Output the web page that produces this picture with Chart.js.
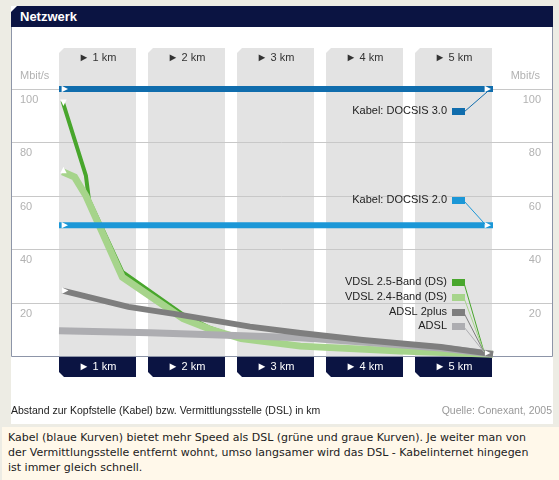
<!DOCTYPE html>
<html>
<head>
<meta charset="utf-8">
<script src="https://cdn.jsdelivr.net/npm/chart.js@4/dist/chart.umd.min.js"></script>
<style>
  body { margin: 0; width: 559px; height: 480px; background: #edece4; position: relative; overflow: hidden;
         font-family: "Liberation Sans", Arial, sans-serif; }
  #panel { position: absolute; left: 11px; top: 6px; width: 542px; height: 418px; background: #fff; }
  #title { position: absolute; left: 11px; top: 6px; width: 533px; height: 21px; background: #0b1442; color: #fff;
           font-weight: bold; font-size: 13px; line-height: 21px; padding-left: 9px;
           clip-path: polygon(6px 0, 100% 0, 100% 100%, 0 100%, 0 6px); }
  #chart { position: absolute; left: 0; top: 0; }
  #axisnote { position: absolute; left: 11px; top: 404px; font-size: 10.5px; color: #222; }
  #source { position: absolute; right: 7px; top: 404px; font-size: 10.5px; color: #999; }
  #caption { position: absolute; left: 2px; top: 427px; width: 551px; height: 50px; background: #fff8ea;
             font-family: "DejaVu Sans", Verdana, sans-serif; font-size: 11px; line-height: 15px; color: #222;
             padding: 3px 0 0 6px; white-space: nowrap; }
</style>
</head>
<body>
<div id="panel"></div>
<canvas id="chart" width="559" height="480"></canvas>
<div id="title">Netzwerk</div>
<div id="axisnote">Abstand zur Kopfstelle (Kabel) bzw. Vermittlungsstelle (DSL) in km</div>
<div id="source">Quelle: Conexant, 2005</div>
<div id="caption">Kabel (blaue Kurven) bietet mehr Speed als DSL (grüne und graue Kurven). Je weiter man von<br>der Vermittlungsstelle entfernt wohnt, umso langsamer wird das DSL - Kabelinternet hingegen<br>ist immer gleich schnell.</div>
<script>
// distance columns and y ticks
const kmLabels = ['1 km', '2 km', '3 km', '4 km', '5 km'];
const yTicks = [20, 40, 60, 80, 100];

// series: distance in km and speed in Mbit/s
const docsis30Km = [0, 5];
const docsis30 = [100, 100];
const docsis20Km = [0, 5];
const docsis20 = [49, 49];
const vdsl25Km = [0.04, 0.31, 0.345, 0.73, 1.43, 1.74, 2.1, 2.78, 3.93, 5];
const vdsl25 = [95.5, 67.5, 58.5, 31.5, 15.5, 10.5, 6.5, 3.7, 1.9, 0.7];
const vdsl24Km = [0.04, 0.18, 0.31, 0.73, 1.43, 1.74, 2.1, 2.78, 3.93, 5];
const vdsl24 = [69, 67, 60, 29.5, 14, 10, 6.5, 3.7, 1.9, 0.7];
const adsl2pKm = [0.04, 0.8, 1.4, 2.2, 2.78, 3.5, 4.4, 5];
const adsl2p = [24.5, 18.4, 15.4, 11, 8.6, 6, 3.4, 0.7];
const adslKm = [0, 1.05, 2.2, 2.78, 3.5, 4.4, 5];
const adsl = [9.5, 8.7, 7.5, 6.8, 5.2, 3, 0.7];

const navy = '#0b1442';
const font = '"Liberation Sans", Arial, sans-serif';

function pts(xs, ys) {
    return xs.map((v, i) => ({ x: v, y: ys[i] }));
}

function tri(ctx, x, y, s, ang) {
    ctx.save();
    ctx.translate(x, y);
    ctx.rotate(ang);
    ctx.beginPath();
    ctx.moveTo(s, 0);
    ctx.lineTo(-s * 0.6, -s * 0.8);
    ctx.lineTo(-s * 0.6, s * 0.8);
    ctx.closePath();
    ctx.fillStyle = '#fff';
    ctx.fill();
    ctx.restore();
}

const backdrop = {
    id: 'backdrop',
    beforeDatasetsDraw(chart) {
        const { ctx, chartArea: a, scales: { y } } = chart;
        const span = a.right - a.left;
        const step = span * 89 / 434, colW = span * 77 / 434;
        const bot = y.getPixelForValue(0);
        ctx.save();
        kmLabels.forEach((lab, i) => {
            const l = a.left + i * step, r = l + colW;
            ctx.fillStyle = '#e3e3e3';
            ctx.beginPath();
            ctx.moveTo(l, 53); ctx.lineTo(l + 5, 48); ctx.lineTo(r, 48);
            ctx.lineTo(r, bot); ctx.lineTo(l, bot); ctx.closePath();
            ctx.fill();
            ctx.fillStyle = navy;
            ctx.beginPath();
            ctx.moveTo(l, bot); ctx.lineTo(r, bot); ctx.lineTo(r, bot + 21);
            ctx.lineTo(l + 5, bot + 21); ctx.lineTo(l, bot + 16); ctx.closePath();
            ctx.fill();
            const cx = (l + r) / 2;
            ctx.font = '11px ' + font;
            ctx.textAlign = 'center';
            ctx.textBaseline = 'middle';
            ctx.fillStyle = '#333';
            ctx.fillText('\u25BA ' + lab, cx, 58);
            ctx.fillStyle = '#fff';
            ctx.fillText('\u25BA ' + lab, cx, bot + 11);
        });
        // grid + tick labels
        ctx.strokeStyle = '#c8c8c8';
        ctx.lineWidth = 1;
        ctx.font = '11px ' + font;
        ctx.fillStyle = '#b2b2b2';
        ctx.textBaseline = 'middle';
        yTicks.forEach(v => {
            const py = Math.round(y.getPixelForValue(v)) + 0.5;
            ctx.beginPath(); ctx.moveTo(11, py); ctx.lineTo(552, py); ctx.stroke();
            ctx.textAlign = 'left'; ctx.fillText(String(v), 20, py + 10);
            ctx.textAlign = 'right'; ctx.fillText(String(v), 541, py + 10);
        });
        ctx.textAlign = 'left'; ctx.fillText('Mbit/s', 20, 76);
        ctx.textAlign = 'right'; ctx.fillText('Mbit/s', 540, 76);
        // frame
        ctx.strokeStyle = '#8d95a8';
        ctx.beginPath();
        ctx.moveTo(11.5, 27); ctx.lineTo(11.5, Math.round(bot) + 0.5);
        ctx.lineTo(552.5, Math.round(bot) + 0.5); ctx.lineTo(552.5, 27);
        ctx.stroke();
        ctx.restore();
    },
    afterDatasetsDraw(chart) {
        const { ctx, scales: { x, y } } = chart;
        const sets = chart.data.datasets;
        const x5 = x.getPixelForValue(5);
        // start/end markers
        const m = i => chart.getDatasetMeta(i).data;
        [0, 1].forEach(i => {
            const d = m(i);
            tri(ctx, d[0].x + 5, d[0].y, 4, 0);
            tri(ctx, d[d.length - 1].x - 6, d[d.length - 1].y, 4, 0);
        });
        tri(ctx, m(2)[0].x + 1, m(2)[0].y + 1, 4, Math.PI / 2);
        tri(ctx, m(3)[0].x + 1, m(3)[0].y - 1, 4, -Math.PI / 2);
        tri(ctx, m(4)[0].x + 2, m(4)[0].y, 4, 0);
        tri(ctx, x5 - 6, y.getPixelForValue(0) - 3, 3.5, 0);
        // labels with connectors
        const labelY = [111, 200, 282, 297, 312, 326];
        const targets = [
            [x5 - 6, y.getPixelForValue(docsis30[1]) + 3],
            [x5 - 8, y.getPixelForValue(docsis20[1]) - 1],
            [x5 - 9, y.getPixelForValue(0) - 4],
            [x5 - 9, y.getPixelForValue(0) - 4],
            [x5 - 9, y.getPixelForValue(0) - 4],
            [x5 - 9, y.getPixelForValue(0) - 4]
        ];
        ctx.save();
        ctx.font = '11px ' + font;
        ctx.textAlign = 'right';
        ctx.textBaseline = 'middle';
        sets.forEach((ds, i) => {
            const ly = labelY[i];
            ctx.fillStyle = '#222';
            ctx.fillText(ds.label, 447, ly);
            ctx.fillStyle = ds.borderColor;
            ctx.fillRect(452, ly - 3, 13, 7);
            ctx.strokeStyle = ds.borderColor;
            ctx.lineWidth = 1;
            ctx.beginPath();
            ctx.moveTo(464, ly + 1);
            ctx.lineTo(targets[i][0], targets[i][1]);
            ctx.stroke();
        });
        ctx.restore();
    }
};

new Chart(document.getElementById('chart').getContext('2d'), {
    type: 'line',
    data: {
        datasets: [
            { label: 'Kabel: DOCSIS 3.0', data: pts(docsis30Km, docsis30), borderColor: '#106dad', borderWidth: 6, order: 1 },
            { label: 'Kabel: DOCSIS 2.0', data: pts(docsis20Km, docsis20), borderColor: '#1b97d7', borderWidth: 6, order: 2 },
            { label: 'VDSL 2.5-Band (DS)', data: pts(vdsl25Km, vdsl25), borderColor: '#48a62c', borderWidth: 4, order: 6 },
            { label: 'VDSL 2.4-Band (DS)', data: pts(vdsl24Km, vdsl24), borderColor: '#a6d48b', borderWidth: 7, order: 5 },
            { label: 'ADSL 2plus', data: pts(adsl2pKm, adsl2p), borderColor: '#7e7e7e', borderWidth: 6, order: 3 },
            { label: 'ADSL', data: pts(adslKm, adsl), borderColor: '#adadb1', borderWidth: 7, order: 4 }
        ]
    },
    options: {
        responsive: false,
        animation: false,
        clip: false,
        elements: { point: { radius: 0 }, line: { tension: 0 } },
        layout: { padding: { left: 59, right: 66, top: 89, bottom: 124 } },
        plugins: { legend: { display: false }, tooltip: { enabled: false } },
        scales: {
            x: { type: 'linear', min: 0, max: 5, display: false },
            y: { min: 0, max: 100, display: false }
        }
    },
    plugins: [backdrop]
});
</script>
</body>
</html>
